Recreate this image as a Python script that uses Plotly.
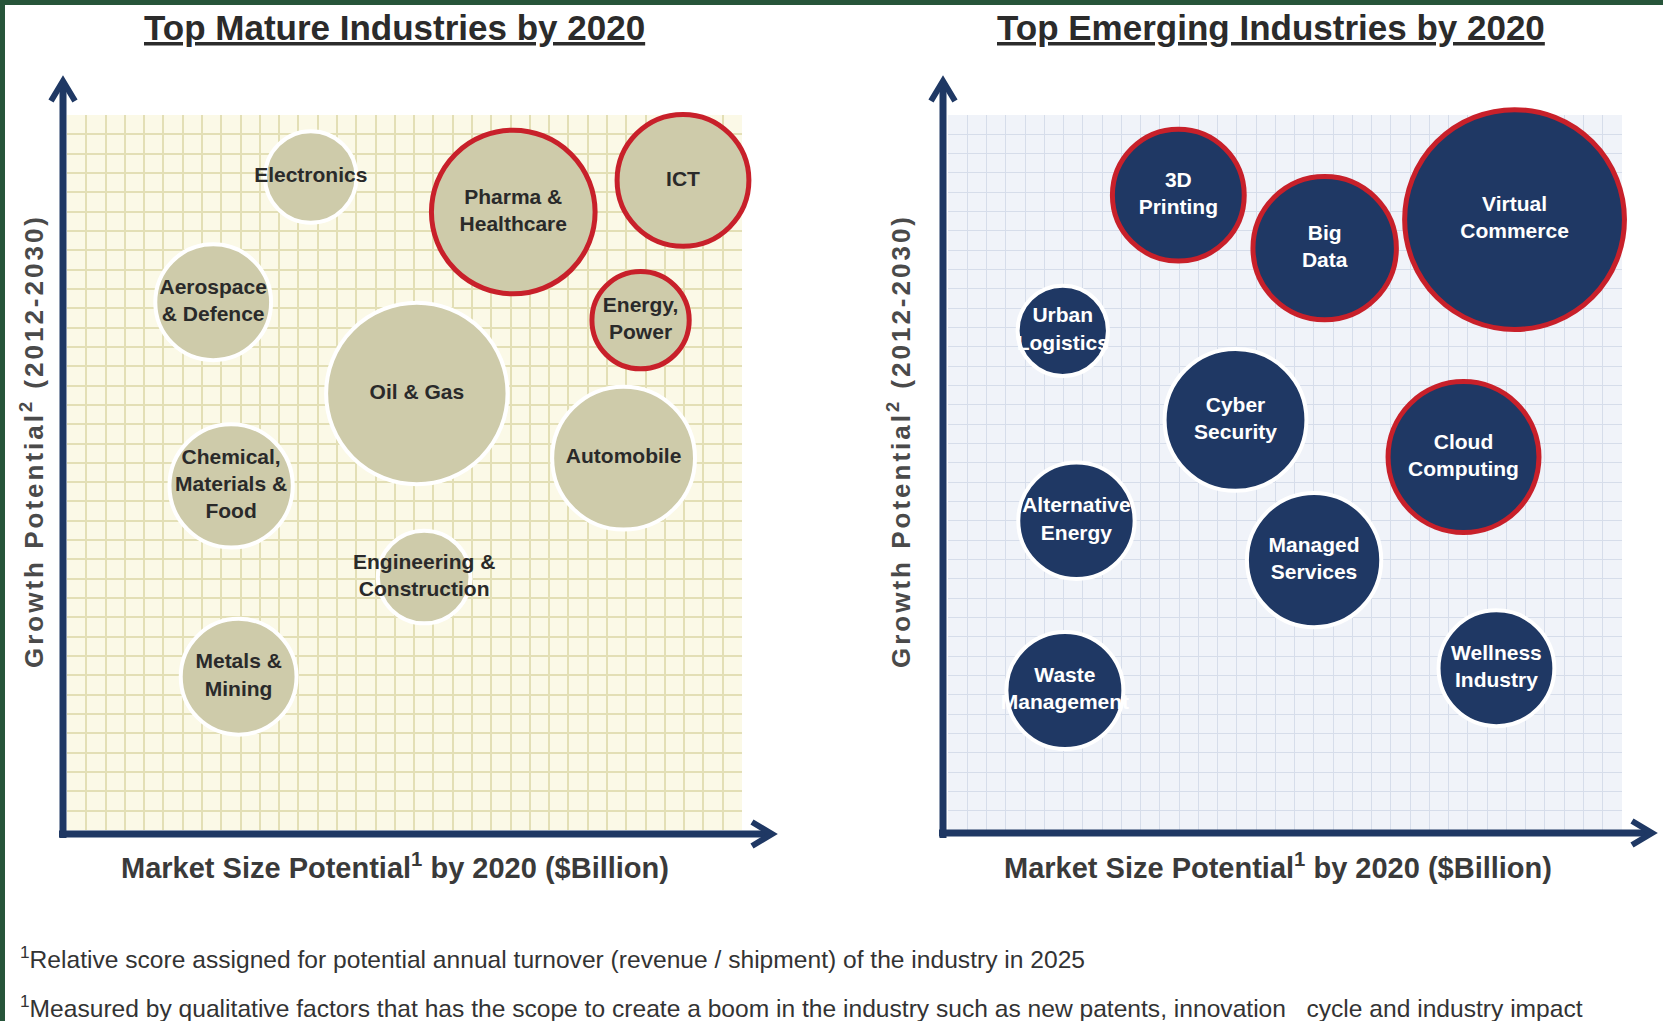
import plotly.graph_objects as go

W, H = 1663, 1021

# mature industries (left panel) - position in grid cells, bubble diameter in grid cells
mature_names = ["Electronics", "Pharma &<br>Healthcare", "ICT", "Aerospace<br>& Defence",
                "Energy,<br>Power", "Oil & Gas", "Automobile", "Chemical,<br>Materials &<br>Food",
                "Engineering &<br>Construction", "Metals &<br>Mining"]
mature_market = [12.64, 23.14, 31.94, 7.58, 29.74, 18.14, 28.86, 8.51, 18.52, 8.90]
mature_growth = [33.79, 31.98, 33.62, 27.31, 26.38, 22.59, 19.24, 17.81, 13.09, 7.93]
mature_size = [4.74, 8.48, 6.83, 6.0, 5.04, 9.4, 7.4, 6.39, 4.8, 6.0]
mature_top = [False, True, True, False, True, False, False, False, False, False]

# emerging industries (right panel)
emerging_names = ["3D<br>Printing", "Big<br>Data", "Virtual<br>Commerce", "Urban<br>Logistics",
                  "Cyber<br>Security", "Cloud<br>Computing", "Alternative<br>Energy",
                  "Managed<br>Services", "Waste<br>Management", "Wellness<br>Industry"]
emerging_market = [11.96, 19.56, 29.42, 5.96, 14.93, 26.77, 6.67, 19.01, 6.07, 28.48]
emerging_growth = [32.85, 30.11, 31.59, 25.83, 21.22, 19.30, 16.00, 13.97, 7.22, 8.37]
emerging_size = [6.83, 7.43, 11.39, 4.68, 7.35, 7.82, 6.03, 6.96, 6.06, 6.0]
emerging_top = [True, True, True, False, False, True, False, False, False, False]

NAVY = "#1F3864"
RED = "#C8202A"
TAN = "#CECBAA"
CELL = 19.3
SIZEREF = 1 / CELL


def px_x(p):
    return p / W


def px_y(p):
    return 1 - p / H


fig = go.Figure()

fig.add_trace(go.Scatter(
    x=mature_market, y=mature_growth, mode="markers+text",
    text=["<b>%s</b>" % n for n in mature_names],
    textposition="middle center",
    textfont=dict(family="Liberation Sans, Arial", size=21, color="#2a2a2a"),
    marker=dict(size=mature_size, sizemode="diameter", sizeref=SIZEREF, color=TAN, opacity=1,
                line=dict(color=[RED if t else "white" for t in mature_top],
                          width=[5 if t else 4 for t in mature_top])),
    hoverinfo="skip", showlegend=False, cliponaxis=False,
    xaxis="x", yaxis="y"))

fig.add_trace(go.Scatter(
    x=emerging_market, y=emerging_growth, mode="markers+text",
    text=["<b>%s</b>" % n for n in emerging_names],
    textposition="middle center",
    textfont=dict(family="Liberation Sans, Arial", size=21, color="white"),
    marker=dict(size=emerging_size, sizemode="diameter", sizeref=SIZEREF, color=NAVY, opacity=1,
                line=dict(color=[RED if t else "white" for t in emerging_top],
                          width=[5 if t else 4 for t in emerging_top])),
    hoverinfo="skip", showlegend=False, cliponaxis=False,
    xaxis="x2", yaxis="y2"))

grid_x = dict(range=[0, 35], dtick=1, tick0=0, showticklabels=False, ticks="",
              zeroline=False, showline=False, fixedrange=True)
grid_y = dict(range=[0, 37], dtick=1, tick0=0, showticklabels=False, ticks="",
              zeroline=False, showline=False, fixedrange=True,
              domain=[px_y(830), px_y(115)])

fig.update_layout(
    width=W, height=H,
    margin=dict(l=0, r=0, t=0, b=0),
    paper_bgcolor="white",
    plot_bgcolor="#FBF9E7",
    xaxis=dict(grid_x, domain=[px_x(67), px_x(742)], gridcolor="#E3DFB6", gridwidth=1.5),
    yaxis=dict(grid_y, anchor="x", gridcolor="#E3DFB6", gridwidth=1.5),
    xaxis2=dict(grid_x, domain=[px_x(948), px_x(1622)], gridcolor="#D6DDEA", gridwidth=1.2),
    yaxis2=dict(grid_y, anchor="x2", gridcolor="#D6DDEA", gridwidth=1.2),
)

# right panel background
fig.add_shape(type="rect", xref="x2 domain", yref="y2 domain", x0=0, x1=1, y0=0, y1=1,
              fillcolor="#F0F3F9", line_width=0, layer="below")

# green frame at top and left
fig.add_shape(type="rect", xref="paper", yref="paper", x0=0, x1=1, y0=px_y(5), y1=1,
              fillcolor="#27553A", line_width=0)
fig.add_shape(type="rect", xref="paper", yref="paper", x0=0, x1=px_x(5), y0=0, y1=1,
              fillcolor="#27553A", line_width=0)


def chevron(points):
    return "M " + " L ".join("%.5f,%.5f" % (px_x(a), px_y(b)) for a, b in points)


# axis arrows (shaft + open chevron head)
for vx, hy, tip_x in [(63, 834, 773), (943, 833, 1653)]:
    fig.add_shape(type="line", xref="paper", yref="paper",
                  x0=px_x(vx), x1=px_x(vx), y0=px_y(838), y1=px_y(82),
                  line=dict(color=NAVY, width=7))
    fig.add_shape(type="line", xref="paper", yref="paper",
                  x0=px_x(vx - 4), x1=px_x(tip_x - 2), y0=px_y(hy), y1=px_y(hy),
                  line=dict(color=NAVY, width=7))
    fig.add_shape(type="path", xref="paper", yref="paper",
                  path=chevron([(vx - 12, 101), (vx, 81), (vx + 12, 101)]),
                  line=dict(color=NAVY, width=6))
    fig.add_shape(type="path", xref="paper", yref="paper",
                  path=chevron([(tip_x - 21, hy - 12), (tip_x - 1, hy), (tip_x - 21, hy + 12)]),
                  line=dict(color=NAVY, width=6))

# panel titles
for cx, title in [(394, "Top Mature Industries by 2020"), (1271, "Top Emerging Industries by 2020")]:
    fig.add_annotation(x=px_x(cx), y=px_y(28), xref="paper", yref="paper",
                       text="<u><b>%s</b></u>" % title, showarrow=False,
                       font=dict(family="Liberation Sans, Arial", size=35, color="#2b2b2b"),
                       xanchor="center", yanchor="middle")

# axis titles
for cx in [395, 1278]:
    fig.add_annotation(x=px_x(cx), y=px_y(866), xref="paper", yref="paper",
                       text="<b>Market Size Potential<sup>1</sup> by 2020 ($Billion)</b>",
                       showarrow=False, font=dict(family="Liberation Sans, Arial", size=29, color="#3a3a3a"),
                       xanchor="center", yanchor="middle")
for cx in [32, 899]:
    fig.add_annotation(x=px_x(cx), y=px_y(441), xref="paper", yref="paper",
                       text="<span style='letter-spacing:3px'><b>Growth Potential<sup>2</sup> (2012-2030)</b></span>",
                       textangle=-90, showarrow=False,
                       font=dict(family="Liberation Sans, Arial", size=26, color="#4a4a4a"),
                       xanchor="center", yanchor="middle")

# footnotes
footnotes = [
    (957, "<sup>1</sup>Relative score assigned for potential annual turnover (revenue / shipment) of the industry in 2025"),
    (1006, "<sup>1</sup>Measured by qualitative factors that has the scope to create a boom in the industry such as new patents, innovation   cycle and industry impact"),
]
for cy, note in footnotes:
    fig.add_annotation(x=px_x(18), y=px_y(cy), xref="paper", yref="paper", text=note,
                       showarrow=False, font=dict(family="Liberation Sans, Arial", size=24.6, color="#333333"),
                       xanchor="left", yanchor="middle")

fig.write_html("out.html", config={"displayModeBar": False},
               post_script="document.body.style.margin='0';document.body.style.overflow='hidden';")
